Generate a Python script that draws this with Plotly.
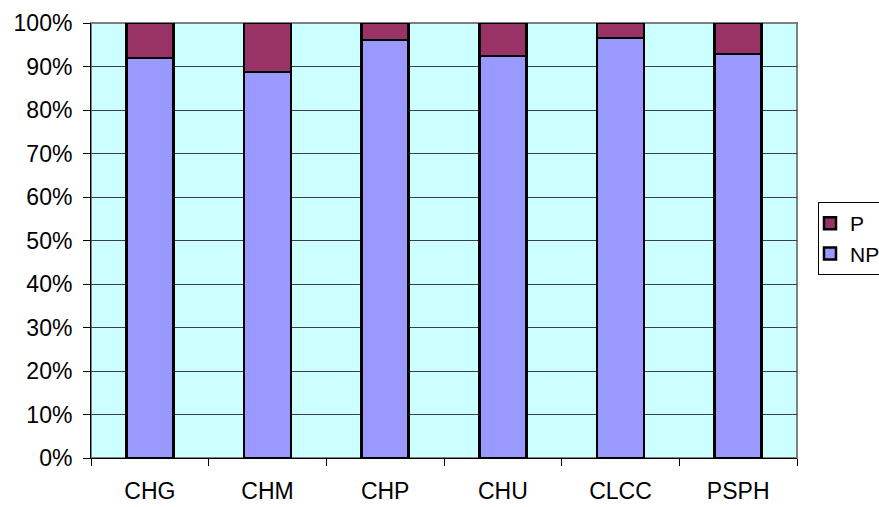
import plotly.graph_objects as go

# Share of each group, in percent
sites = ["CHG", "CHM", "CHP", "CHU", "CLCC", "PSPH"]
np_share = [91.9, 88.7, 96.1, 92.4, 96.5, 92.9]
p_share = [round(100 - v, 1) for v in np_share]
y_ticks = list(range(0, 101, 10))
y_tick_labels = [f"{v}%" for v in y_ticks]

FONT = "Liberation Sans, Arial, sans-serif"

fig = go.Figure()
fig.add_trace(go.Bar(
    x=sites, y=np_share, name="NP", legendgroup="NP",
    marker=dict(color="#9999FF", line=dict(color="black", width=2.5)),
))
fig.add_trace(go.Bar(
    x=sites, y=p_share, name="P", legendgroup="P",
    marker=dict(color="#993366", line=dict(color="black", width=2.5)),
))

fig.update_layout(
    width=879, height=507,
    margin=dict(l=91, r=82, t=23, b=49),
    barmode="stack", bargap=0.6,
    plot_bgcolor="#CCFFFF", paper_bgcolor="white",
    font=dict(family=FONT, size=23, color="black"),
    legend=dict(
        traceorder="reversed",
        xref="container", yref="container",
        x=818 / 879, y=1 - 202 / 507, xanchor="left", yanchor="top",
        bordercolor="black", borderwidth=1, bgcolor="white",
        font=dict(size=21), tracegroupgap=8, indentation=-9,
    ),
    shapes=[dict(
        type="rect", xref="paper", yref="paper", x0=0, x1=1, y0=0, y1=1,
        line=dict(color="#808080", width=2), layer="below",
    )],
)

fig.update_xaxes(
    type="category", showgrid=False, automargin=False,
    showline=True, linecolor="black", linewidth=1,
    ticks="outside", tickson="boundaries", ticklen=7, tickcolor="black",
    ticklabelstandoff=12,
)
fig.update_yaxes(
    range=[0, 100], tickvals=y_ticks, ticktext=y_tick_labels,
    showgrid=True, gridcolor="#404040", gridwidth=1, automargin=False,
    showline=True, linecolor="black", linewidth=1,
    ticks="outside", ticklen=7, tickcolor="black",
    ticklabelstandoff=6, zeroline=False,
)

fig.write_html("out.html")
